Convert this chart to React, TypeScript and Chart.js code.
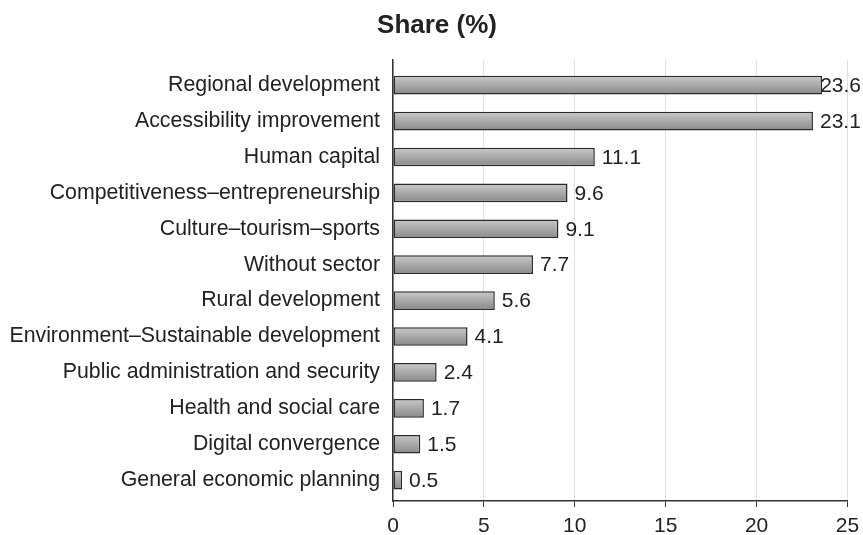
import React, { useEffect, useRef } from "react";
import { Chart, registerables } from "chart.js";

Chart.register(...registerables);

const categories: string[] = [
  "Regional development",
  "Accessibility improvement",
  "Human capital",
  "Competitiveness\u2013entrepreneurship",
  "Culture\u2013tourism\u2013sports",
  "Without sector",
  "Rural development",
  "Environment\u2013Sustainable development",
  "Public administration and security",
  "Health and social care",
  "Digital convergence",
  "General economic planning",
];

const shares: number[] = [23.6, 23.1, 11.1, 9.6, 9.1, 7.7, 5.6, 4.1, 2.4, 1.7, 1.5, 0.5];

const xTicks: number[] = [0, 5, 10, 15, 20, 25];

const titleText = "Share (%)";

const FONT = "'Liberation Sans', Arial, Helvetica, sans-serif";

const valueLabels = {
  id: "valueLabels",
  afterDatasetsDraw(chart: any) {
    const ctx = chart.ctx;
    const meta = chart.getDatasetMeta(0);
    ctx.save();
    ctx.font = `21px ${FONT}`;
    ctx.fillStyle = "#222";
    ctx.textAlign = "left";
    ctx.textBaseline = "middle";
    meta.data.forEach((el: any, i: number) => {
      const txt = shares[i].toFixed(1);
      const w = ctx.measureText(txt).width;
      const x = Math.min(el.x + 7, chart.width - w - 2);
      ctx.fillText(txt, x, el.y + 1);
    });
    ctx.restore();
  },
};

const topTitle = {
  id: "topTitle",
  afterDraw(chart: any) {
    const ctx = chart.ctx;
    ctx.save();
    ctx.font = `bold 26px ${FONT}`;
    ctx.fillStyle = "#222";
    ctx.textAlign = "center";
    ctx.textBaseline = "alphabetic";
    ctx.fillText(titleText, 437, 33);
    ctx.restore();
  },
};

export default function App() {
  const ref = useRef<HTMLCanvasElement | null>(null);

  useEffect(() => {
    if (!ref.current) return;
    const data = shares.map((v, i) => ({ x: v, y: i }));
    const chart = new Chart(ref.current, {
      type: "bar",
      data: {
        datasets: [
          {
            data: data as any,
            backgroundColor: (c: any) => {
              const ch = c.chart;
              const ys = ch.scales && ch.scales.y;
              if (!ys || !ch.chartArea || c.dataIndex === undefined) return "#aaa";
              const yc = ys.getPixelForValue(c.dataIndex);
              const g = ch.ctx.createLinearGradient(0, yc - 9, 0, yc + 9);
              g.addColorStop(0, "#c8c8c8");
              g.addColorStop(1, "#8a8a8a");
              return g;
            },
            borderColor: "#2a2a2a",
            borderWidth: 1.5,
            borderSkipped: false,
            barPercentage: 0.52,
            categoryPercentage: 1,
          },
        ],
      },
      options: {
        indexAxis: "y",
        animation: false,
        responsive: true,
        maintainAspectRatio: false,
        layout: { padding: { left: 0, right: 15.5, top: 60, bottom: 0 } },
        plugins: {
          legend: { display: false },
          tooltip: { enabled: false },
          title: { display: false },
        },
        scales: {
          x: {
            type: "linear",
            position: "bottom",
            min: 0,
            max: 25,
            afterBuildTicks: (s: any) => {
              s.ticks = xTicks.map((v) => ({ value: v }));
            },
            afterFit: (s: any) => {
              s.height = 34;
              s.paddingLeft = 0;
              s.paddingRight = 0;
            },
            grid: {
              color: "#e0e0e0",
              lineWidth: 1,
              tickColor: "#333",
              tickLength: 6,
              drawTicks: true,
            },
            border: { color: "#333", width: 1.5 },
            ticks: {
              color: "#222",
              padding: 7,
              font: { family: FONT, size: 21 },
              maxRotation: 0,
            },
          },
          y: {
            type: "linear",
            reverse: true,
            offset: false,
            min: -0.7,
            max: 11.58,
            afterBuildTicks: (s: any) => {
              s.ticks = categories.map((_, i) => ({ value: i }));
            },
            afterFit: (s: any) => {
              s.width = 393;
              s.paddingTop = 0;
              s.paddingBottom = 0;
            },
            grid: { display: false, drawTicks: false, offset: false },
            border: { color: "#333", width: 1.5 },
            ticks: {
              color: "#222",
              padding: 13,
              font: { family: FONT, size: 21.3 },
              autoSkip: false,
              callback: (v: any) => categories[v as number] ?? "",
            },
          },
        },
      },
      plugins: [valueLabels, topTitle],
    });
    return () => chart.destroy();
  }, []);

  return (
    <div style={{ position: "fixed", left: 0, top: 0, width: 863, height: 535, background: "#fff" }}>
      <canvas ref={ref} />
    </div>
  );
}
